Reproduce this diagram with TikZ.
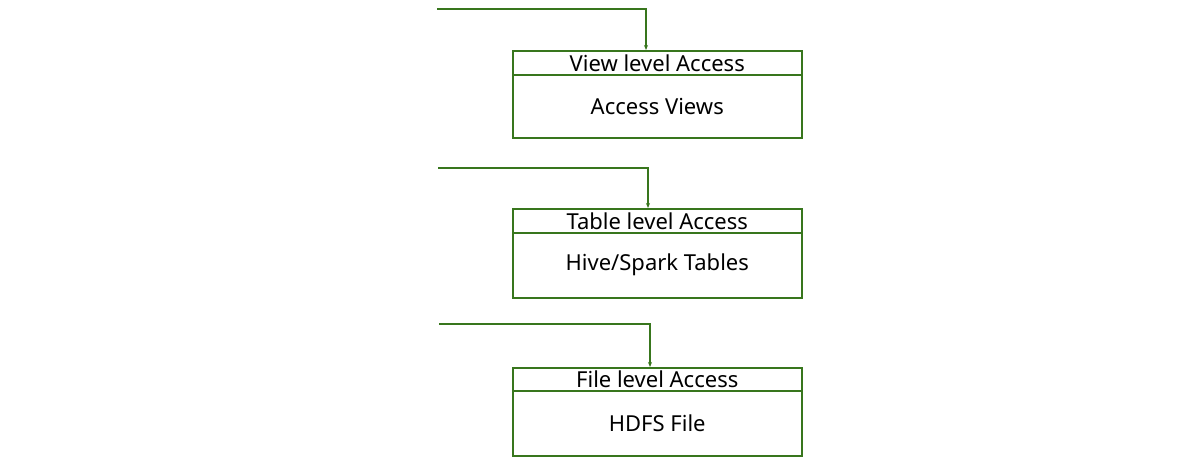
\documentclass[tikz,border=0pt]{standalone}
\usepackage{fontspec}
\setmainfont{Noto Sans}
\usetikzlibrary{arrows.meta,positioning}
\definecolor{lg}{RGB}{56,118,29}
\tikzset{
  hdr/.style={draw=lg, line width=1.5pt, minimum width=289pt, minimum height=24pt, inner sep=0pt, anchor=north west, font=\fontsize{22}{24}\selectfont},
  bdy/.style={draw=lg, line width=1.5pt, minimum width=289pt, inner sep=0pt, anchor=north west, font=\fontsize{22}{24}\selectfont},
  link/.style={draw=lg, line width=1.3pt, -{Stealth[length=5pt,width=4pt]}}
}
\begin{document}
\begin{tikzpicture}[x=1pt,y=-1pt]
\useasboundingbox (0,0) rectangle (1179,472);
% box 1
\node[hdr] (h1) at (512,50) {View level Access};
\node[bdy, minimum height=63pt] (b1) at (512,74) {Access Views};
% box 2
\node[hdr] (h2) at (512,208) {Table level Access};
\node[bdy, minimum height=65pt] (b2) at (512,232) {Hive/Spark Tables};
% box 3
\node[hdr, minimum height=23pt] (h3) at (512,367) {File level Access};
\node[bdy, minimum height=65pt] (b3) at (512,390) {HDFS File};
% connectors
\coordinate (s1) at (437,9);
\coordinate (s2) at (438,168);
\coordinate (s3) at (439,324);
\draw[link] (s1) -| ([xshift=134pt]h1.north west);
\draw[link] (s2) -| ([xshift=136pt]h2.north west);
\draw[link] (s3) -| ([xshift=138pt]h3.north west);
\end{tikzpicture}
\end{document}
